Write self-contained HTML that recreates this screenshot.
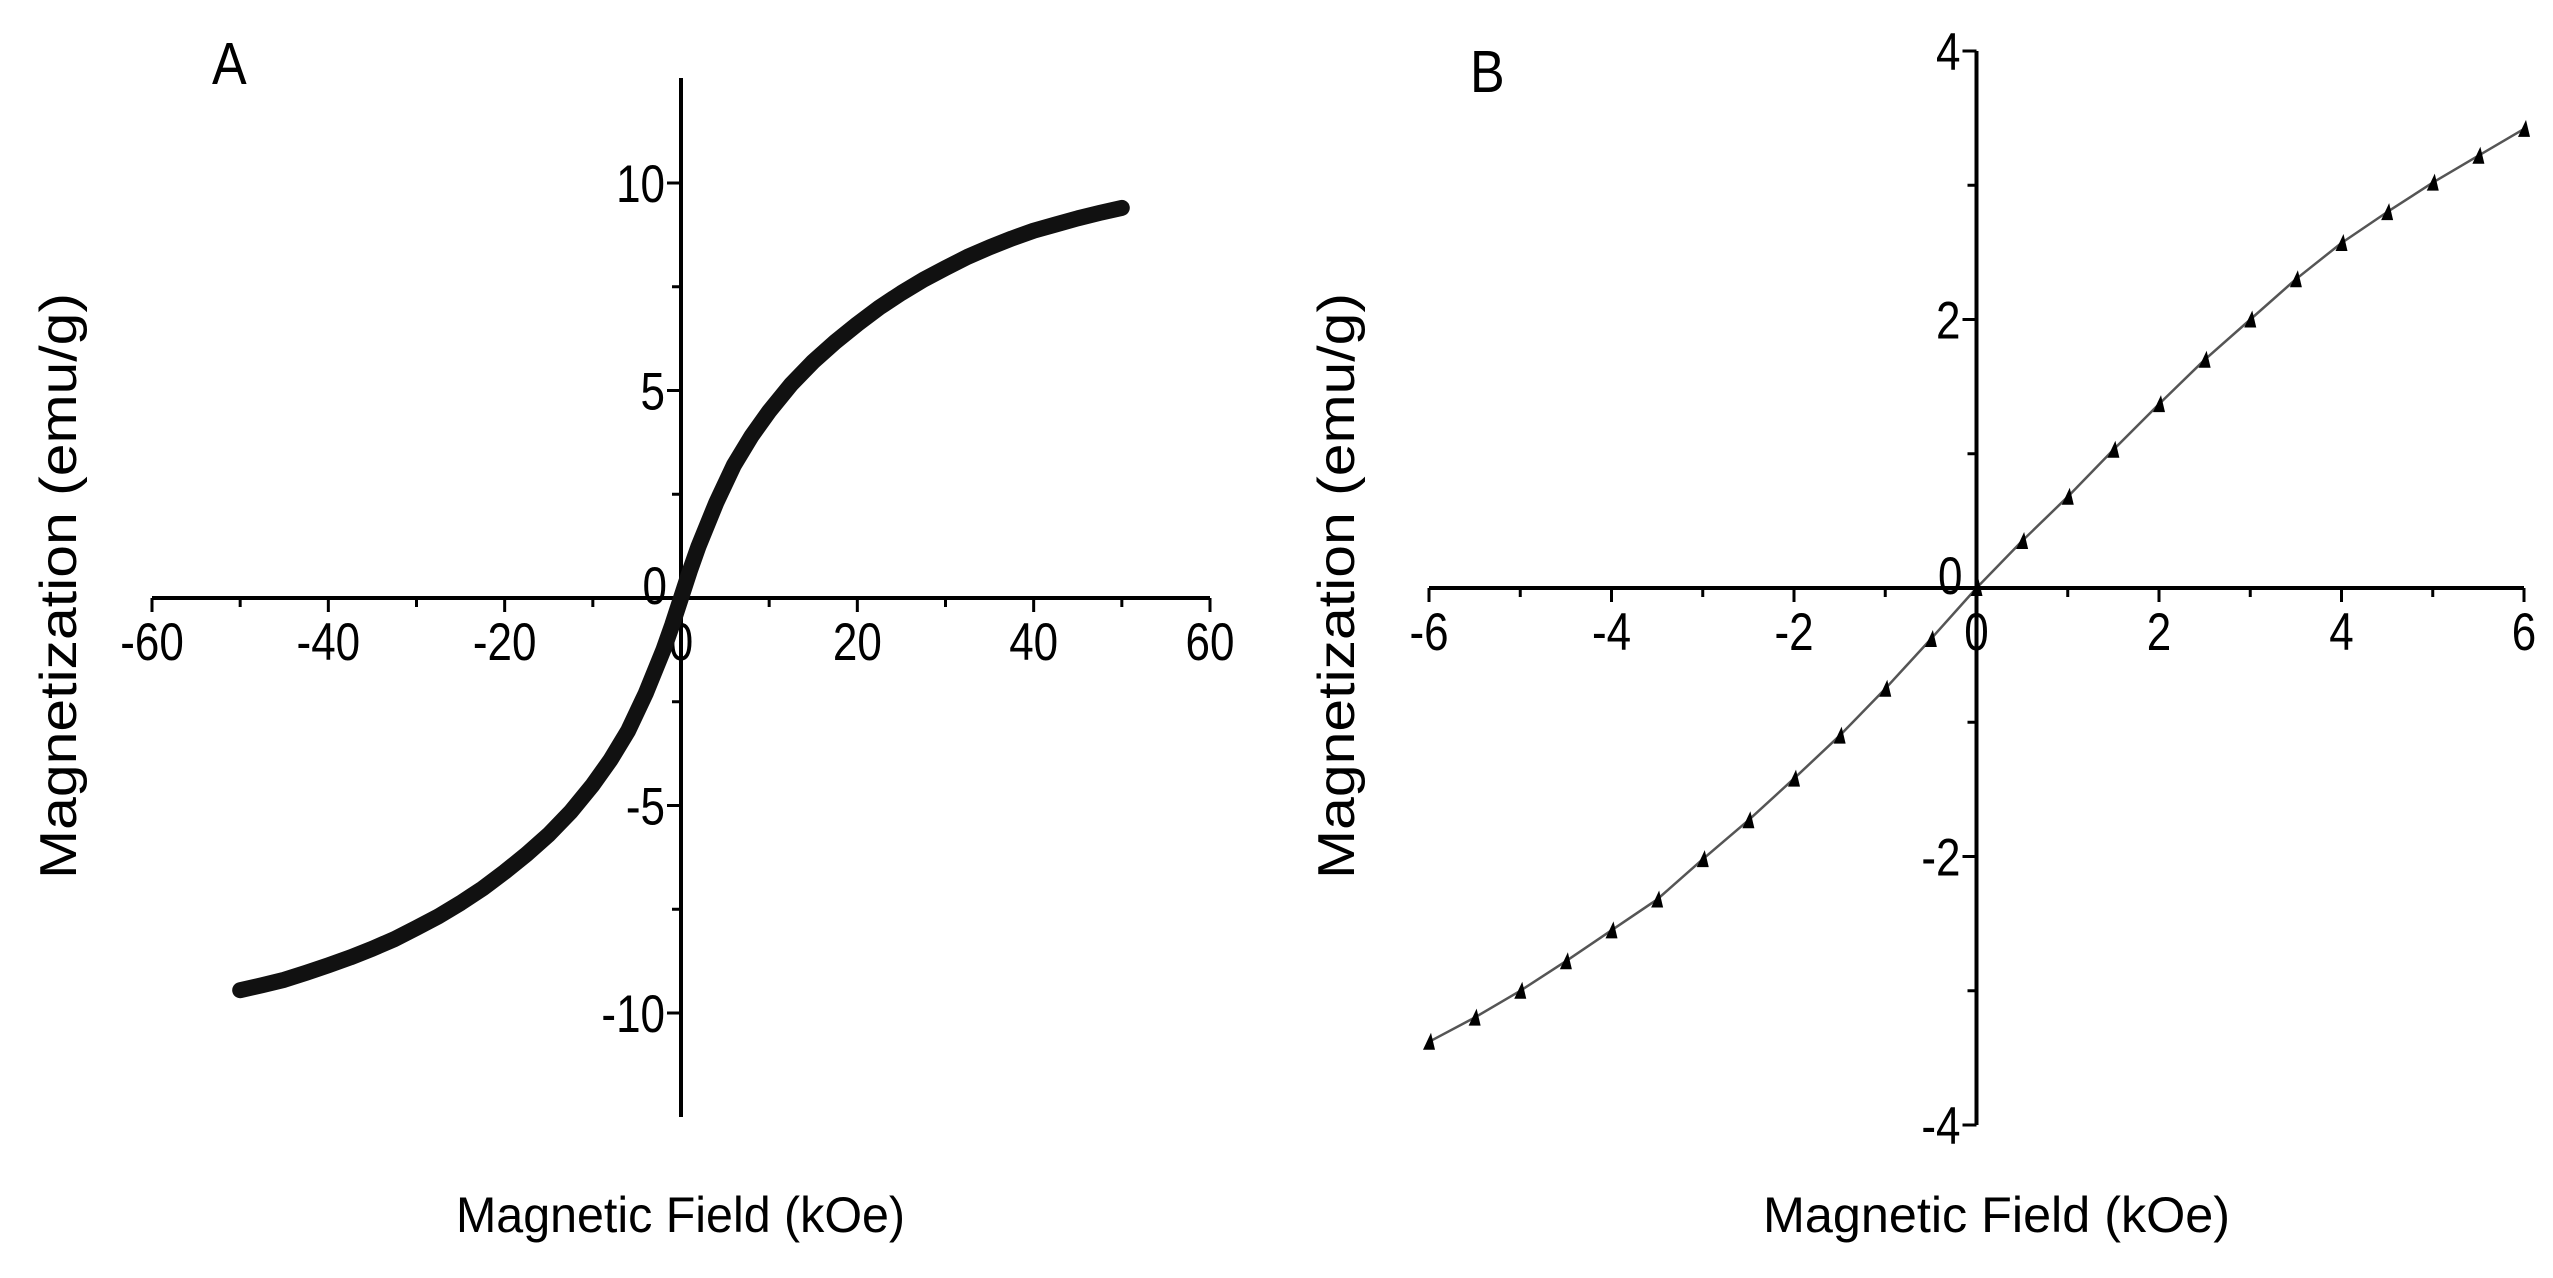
<!DOCTYPE html>
<html><head><meta charset="utf-8"><style>
html,body{margin:0;padding:0;background:#fff;}
svg{display:block;font-family:"Liberation Sans",Arial,sans-serif;}
</style></head><body>
<svg id="fig" width="2553" height="1278" viewBox="0 0 2553 1278" xmlns="http://www.w3.org/2000/svg">
<rect width="2553" height="1278" fill="#fff"/>
<g id="pa"></g>
<g id="pb"></g>
</svg>
<script>
// Panel A data
const aX = [-50,-47.5,-45,-42.5,-40,-37.5,-35,-32.5,-30,-27.5,-25,-22.5,-20,-17.5,-15,-12.5,-10,-8,-6,-4,-2,-1,0,1,2,4,6,8,10,12.5,15,17.5,20,22.5,25,27.5,30,32.5,35,37.5,40,42.5,45,47.5,50];
const aY = [-9.45,-9.33,-9.2,-9.03,-8.85,-8.66,-8.45,-8.22,-7.95,-7.67,-7.35,-7.0,-6.6,-6.17,-5.7,-5.15,-4.5,-3.9,-3.2,-2.3,-1.25,-0.65,0,0.65,1.25,2.3,3.2,3.9,4.5,5.15,5.7,6.17,6.6,7.0,7.35,7.67,7.95,8.22,8.45,8.66,8.85,9.0,9.15,9.28,9.4];
const aXTicks = [-60,-40,-20,0,20,40,60];
const aYTicks = [-10,-5,0,5,10];
// Panel B data
const bX = [-6,-5.5,-5,-4.5,-4,-3.5,-3,-2.5,-2,-1.5,-1,-0.5,0,0.5,1,1.5,2,2.5,3,3.5,4,4.5,5,5.5,6];
const bY = [-3.38,-3.2,-3.0,-2.78,-2.55,-2.32,-2.02,-1.73,-1.42,-1.1,-0.75,-0.38,0,0.35,0.68,1.03,1.37,1.7,2.0,2.3,2.57,2.8,3.02,3.22,3.42];
const bXTicks = [-6,-4,-2,0,2,4,6];
const bYTicks = [-4,-2,0,2,4];

const NS = "http://www.w3.org/2000/svg";
function mk(parent, tag, attrs, text){
  const e = document.createElementNS(NS, tag);
  for (const k in attrs) e.setAttribute(k, attrs[k]);
  if (text !== undefined) e.textContent = text;
  parent.appendChild(e);
  return e;
}
function panel(g, cfg){
  const sx = v => cfg.x0 + (v - cfg.xmin) / (cfg.xmax - cfg.xmin) * (cfg.x1 - cfg.x0);
  const sy = v => cfg.y0 + (v - cfg.ymin) / (cfg.ymax - cfg.ymin) * (cfg.y1 - cfg.y0);
  const ax0 = sx(0), ay0 = sy(0);
  let e;
  e = mk(g,'line',{x1:cfg.x0,x2:cfg.x1,y1:ay0,y2:ay0,stroke:'#000','stroke-width':4});
  
  
  e = mk(g,'line',{x1:ax0,x2:ax0,y1:cfg.yTop,y2:cfg.yBot,stroke:'#000','stroke-width':4});
  
  
  for (let v = cfg.xmin; v <= cfg.xmax + 1e-9; v += cfg.xminor){
    e = mk(g,'line',{x1:sx(v),x2:sx(v),y1:ay0,y2:ay0+(Math.abs(v/cfg.xmajor-Math.round(v/cfg.xmajor))<1e-6?14:9),stroke:'#000','stroke-width':3});
    
    
  }
  for (let v = cfg.ymin; v <= cfg.ymax + 1e-9; v += cfg.yminor){
    e = mk(g,'line',{x1:ax0,x2:ax0-(Math.abs(v/cfg.ymajor-Math.round(v/cfg.ymajor))<1e-6?14:9),y1:sy(v),y2:sy(v),stroke:'#000','stroke-width':3});
    
    
  }
  cfg.xt.forEach(v=>{
    e = mk(g,'text',{x:0,y:0,'font-size':44,'text-anchor':'middle',transform:`translate(${sx(v)},${ay0+62}) scale(1,1.2)`},String(v));
    
    
  });
  cfg.yt.forEach(v=>{
    if (v===0) return;
    e = mk(g,'text',{x:0,y:0,'font-size':44,'text-anchor':'end',transform:`translate(${ax0-16},${sy(v)+19}) scale(1,1.2)`},String(v));
    
    
  });
  e = mk(g,'text',{x:0,y:0,'font-size':44,'text-anchor':'end',transform:`translate(${ax0-14},${ay0+6}) scale(1,1.2)`},'0');
  
  
  const pts = cfg.xs.map((x,i)=>sx(x).toFixed(1)+','+sy(cfg.ys[i]).toFixed(1)).join(' ');
  e = mk(g,'polyline',{points:pts,fill:'none',stroke:cfg.lineColor,'stroke-width':cfg.lw,'stroke-linejoin':'round','stroke-linecap':'round'});
  
  
  if (cfg.markers){
    cfg.xs.forEach((x,i)=>{
      const px = sx(x), py = sy(cfg.ys[i]);
      e = mk(g,'polygon',{points:`${px-6},${py+8} ${px+6},${py+8} ${px+2},${py-9}`,fill:'#000'});
      
      
    });
  }
  e = mk(g,'text',{x:0,y:0,'font-size':52,transform:`translate(${cfg.labX},${cfg.labY}) scale(1,1.15)`},cfg.label);
  
  
  e = mk(g,'text',{x:cfg.xtX0,y:0,'font-size':50,textLength:cfg.xtW,lengthAdjust:'spacingAndGlyphs',transform:`translate(0,1232)`},'Magnetic Field (kOe)');
  
  
  e = mk(g,'text',{x:-293,y:0,'font-size':52,textLength:586,lengthAdjust:'spacingAndGlyphs',transform:`translate(${cfg.ytX},586) rotate(-90)`},'Magnetization (emu/g)');
  
  
}
panel(document.getElementById('pa'),{
  x0:152,x1:1210,xmin:-60,xmax:60,y0:1013,y1:183,ymin:-10,ymax:10,yTop:78,yBot:1117,
  xminor:10,xmajor:20,yminor:2.5,ymajor:5,xt:aXTicks,yt:aYTicks,xs:aX,ys:aY,
  lineColor:'#111',lw:16,markers:false,label:'A',labX:212,labY:84,ytX:76,xtX0:456,xtW:449
});
panel(document.getElementById('pb'),{
  x0:1429,x1:2524,xmin:-6,xmax:6,y0:1125,y1:51,ymin:-4,ymax:4,yTop:51,yBot:1125,
  xminor:1,xmajor:2,yminor:1,ymajor:2,xt:bXTicks,yt:bYTicks,xs:bX,ys:bY,
  lineColor:'#555',lw:2.5,markers:true,label:'B',labX:1470,labY:92,ytX:1354,xtX0:1763,xtW:467
});
</script>
</body></html>
